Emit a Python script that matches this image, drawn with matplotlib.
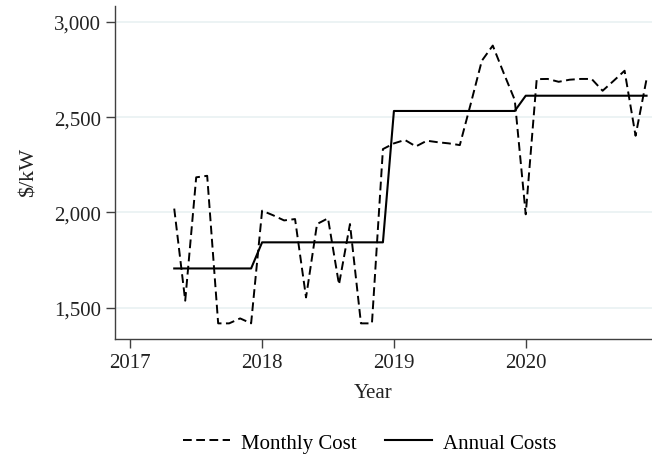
import numpy as np
import matplotlib
matplotlib.use("Agg")
import matplotlib.pyplot as plt
from matplotlib.ticker import FuncFormatter

# ---------- Data ----------
# monthly cost, May 2017 .. Dec 2020 ($/kW)
start_year, start_month = 2017, 5
monthly_cost = [
    2020, 1537, 2184, 2192, 1418, 1418, 1444, 1418,                  # 2017
    2009, 1985, 1958, 1965, 1554, 1939, 1969, 1622, 1939, 1418, 1418, 2332,  # 2018
    2362, 2380, 2346, 2376, 2368, 2362, 2353, 2571, 2795, 2875, 2730, 2590,  # 2019
    1990, 2699, 2700, 2685, 2696, 2700, 2700, 2638, 2690, 2743, 2402, 2699,  # 2020
]
annual_years = [2017, 2018, 2019, 2020]
annual_cost = [1706, 1843, 2532, 2612]

y_ticks = [1500, 2000, 2500, 3000]
x_ticks = [2017, 2018, 2019, 2020]

# ---------- Build series ----------
n = len(monthly_cost)
months = np.arange(n) + (start_month - 1)
years = start_year + months // 12
t = start_year + months / 12.0
annual_lookup = dict(zip(annual_years, annual_cost))
annual_line = [annual_lookup[y] for y in years]

# ---------- Plot ----------
plt.rcParams["font.family"] = ["Liberation Serif", "DejaVu Serif"]
plt.rcParams["font.size"] = 15

fig = plt.figure(figsize=(6.52, 4.60), dpi=100)
ax = fig.add_axes([115 / 652, 1 - 340 / 460, 537 / 652, 332.7 / 460])

ax.plot(t, monthly_cost, color="black", lw=1.4, dashes=(4.5, 2.3),
        label="Monthly Cost")
ax.plot(t, annual_line, color="black", lw=1.5, label="Annual Costs")

ax.set_xlim(2016.884, 2020.958)
ax.set_ylim(1336, 3081)
ax.set_xticks(x_ticks)
ax.set_yticks(y_ticks)
ax.yaxis.set_major_formatter(FuncFormatter(lambda v, p: f"{int(v):,}"))

ax.yaxis.grid(True, color="#EAF2F3", lw=1.3)
ax.set_axisbelow(True)
for s in ["top", "right"]:
    ax.spines[s].set_visible(False)
for s in ["left", "bottom"]:
    ax.spines[s].set_color("#404040")
    ax.spines[s].set_linewidth(1.0)
ax.tick_params(direction="out", length=6.3, width=1.0, color="#404040",
               labelcolor="#222222", pad=3.5)

ax.set_xlabel("Year", color="#222222")
ax.set_ylabel("$/kW", color="#222222", fontsize=16)
ax.xaxis.set_label_coords(0.48, -0.132)
ax.yaxis.set_label_coords(-0.142, 0.505)

fig.legend(loc="center", bbox_to_anchor=(0.567, 0.035), ncol=2,
           frameon=False, handlelength=2.25, handletextpad=0.5,
           columnspacing=1.4)

fig.savefig("out.png", dpi=100)
